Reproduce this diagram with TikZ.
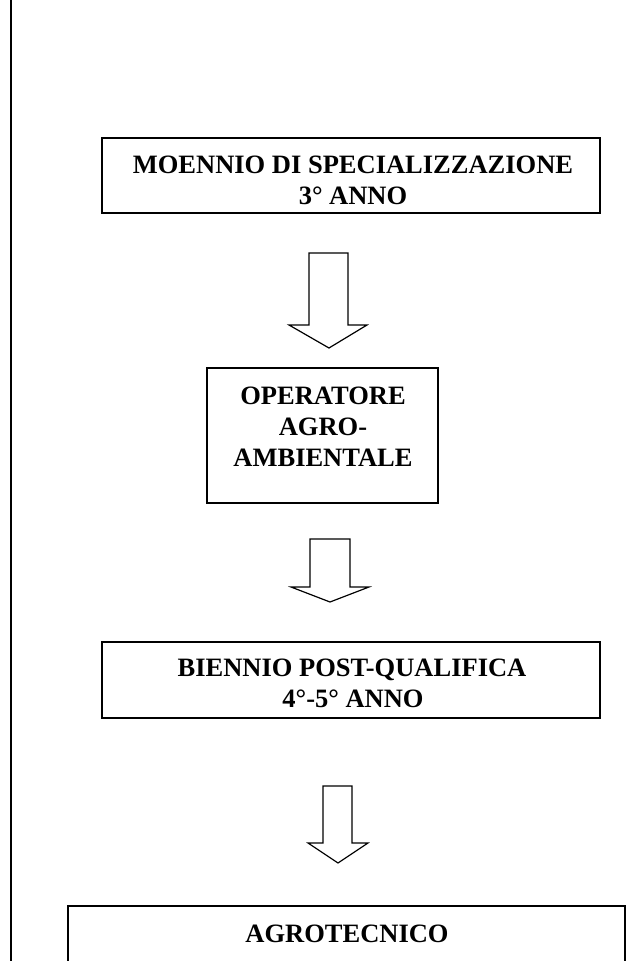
\documentclass[tikz,border=0pt]{standalone}
\usepackage{fontspec}
\setmainfont{Liberation Serif}
\begin{document}
\begin{tikzpicture}[x=1pt,y=-1pt,
    box/.style={line width=1.8pt},
    blockarrow/.style={line width=1.2pt,line join=miter},
    boxtext/.style={font=\bfseries\fontsize{26.5}{31}\selectfont,anchor=base,inner sep=0pt}]
                \useasboundingbox (0,0) rectangle (639,961);
                % page margin line
                \coordinate (P1) at (11,-5);
                \coordinate (P2) at (11,966);
                \draw[line width=2.2pt] (P1) -- (P2);
                % boxes
                \draw[box] (102,138) rectangle (600,213);
                \node[boxtext] (m1) at (353,173) {MOENNIO DI SPECIALIZZAZIONE};
                \node[boxtext] (m2) at (353,204) {3° ANNO};
                \draw[box] (207,368) rectangle (438,503);
                \node[boxtext] (o1) at (323,404) {OPERATORE};
                \node[boxtext] (o2) at (323,435) {AGRO-};
                \node[boxtext] (o3) at (323,466) {AMBIENTALE};
                \draw[box] (102,642) rectangle (600,718);
                \node[boxtext] (b1) at (352,676) {BIENNIO POST-QUALIFICA};
                \node[boxtext] (b2) at (353,707) {4°-5° ANNO};
                \draw[box] (68,966) -- (68,906) -- (625,906) -- (625,966);
                \node[boxtext] (t1) at (347,942) {AGROTECNICO};
                % block arrows
                \draw[blockarrow] (309,253) -- (309,325) -- (289,325) -- (329,348)
                    -- (367,325) -- (348,325) -- (348,253) -- cycle;
                \draw[blockarrow] (310,539) -- (310,587) -- (291,587) -- (330,602)
                    -- (369,587) -- (350,587) -- (350,539) -- cycle;
                \draw[blockarrow] (323,786) -- (323,843) -- (308,843) -- (338,863)
                    -- (368,843) -- (352,843) -- (352,786) -- cycle;
\end{tikzpicture}
\end{document}
